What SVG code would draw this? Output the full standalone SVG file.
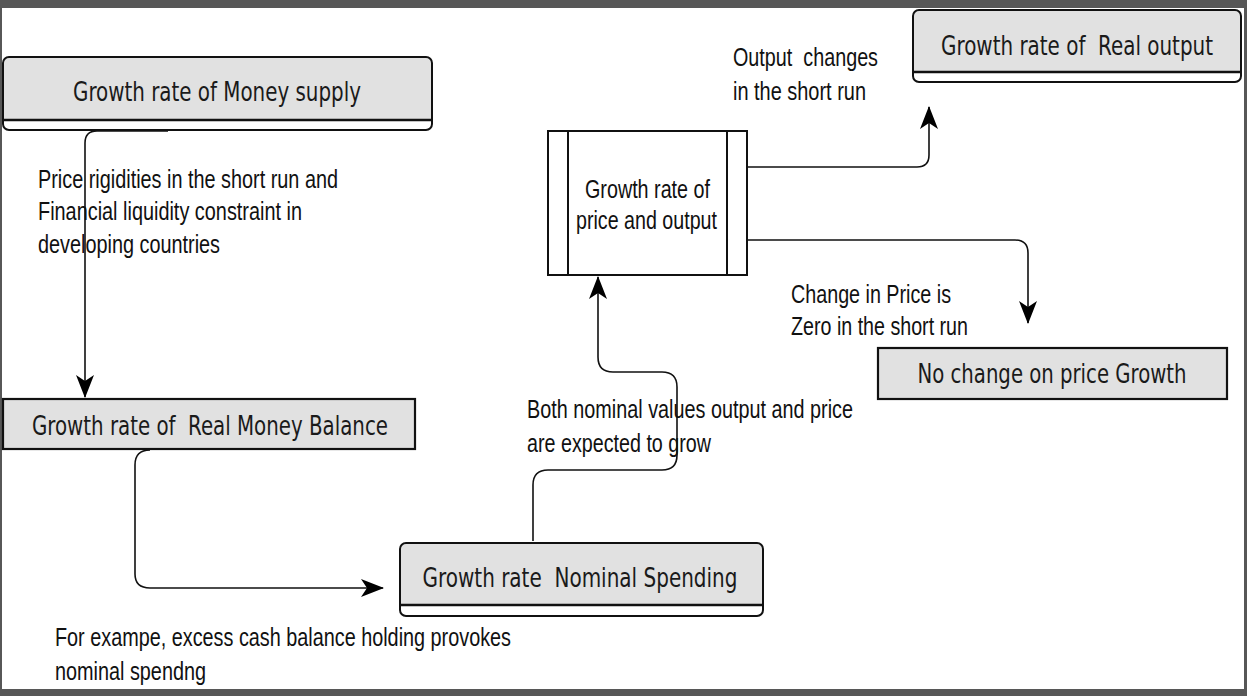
<svg xmlns="http://www.w3.org/2000/svg" width="1247" height="696" viewBox="0 0 1247 696">
  <style>
    .frame { fill: #575757; }
    .hdr { fill: #e1e1e1; stroke: none; }
    .outline { fill: none; stroke: #111; stroke-width: 2; }
    .plain { fill: #e1e1e1; stroke: #111; stroke-width: 2.2; }
    .proc { fill: #fff; stroke: #111; stroke-width: 2; }
    .sep { stroke: #111; stroke-width: 2.6; }
    .bt { font-family: "DejaVu Sans Condensed", "DejaVu Sans", sans-serif; font-size: 27px; fill: #1a1a1a; text-anchor: middle; }
    .lb { font-family: "Liberation Sans", Arial, sans-serif; font-size: 25px; fill: #111; }
    .edge { fill: none; stroke: #111; stroke-width: 1.6; marker-end: url(#arrow); }
  </style>
  <defs>
    <marker id="arrow" viewBox="0 0 23 18" refX="22" refY="9" markerWidth="23" markerHeight="18" markerUnits="userSpaceOnUse" orient="auto">
      <path d="M0,0 L23,9 L0,18 L6,9 Z" fill="#000"/>
    </marker>
  </defs>

  <!-- page background and frame -->
  <rect x="0" y="0" width="1247" height="696" fill="#fff"/>
  <rect class="frame" x="0" y="0" width="1247" height="8"/>
  <rect class="frame" x="0" y="689" width="1247" height="7"/>
  <rect class="frame" x="0" y="0" width="2" height="696"/>
  <rect class="frame" x="1244" y="0" width="3" height="696"/>

  <!-- connectors -->
  <g id="connectors">
    <path class="edge" d="M168,131 H97 Q85,131 85,143 V397"/>
    <path class="edge" d="M150,450 Q135,450 135,465 V574 Q135,588 150,588 H383"/>
    <path class="edge" d="M533,541 V485 Q533,470 548,470 H662 Q677,470 677,455 V387 Q677,372 662,372 H613 Q598,372 598,357 V277"/>
    <path class="edge" d="M747,167 H917 Q929,167 929,155 V107"/>
    <path class="edge" d="M747,240 H1015 Q1028,240 1028,253 V323"/>
  </g>

  <!-- nodes -->
  <g id="money-supply">
    <rect x="3" y="57" width="429" height="73" rx="6" fill="#fff"/>
    <path class="hdr" d="M3,120 V63 Q3,57 9,57 H426 Q432,57 432,63 V120 Z"/>
    <rect class="outline" x="3" y="57" width="429" height="73" rx="6"/>
    <line class="sep" x1="3" y1="120" x2="432" y2="120"/>
    <text class="bt" x="217" y="101" textLength="288" lengthAdjust="spacingAndGlyphs">Growth rate of Money supply</text>
  </g>

  <g id="real-money-balance">
    <rect class="plain" x="3" y="399" width="412" height="50"/>
    <text class="bt" x="210" y="435" textLength="356" lengthAdjust="spacingAndGlyphs" xml:space="preserve">Growth rate of  Real Money Balance</text>
  </g>

  <g id="nominal-spending">
    <rect x="400" y="543" width="363" height="73" rx="6" fill="#fff"/>
    <path class="hdr" d="M400,605 V549 Q400,543 406,543 H757 Q763,543 763,549 V605 Z"/>
    <rect class="outline" x="400" y="543" width="363" height="73" rx="6"/>
    <line class="sep" x1="400" y1="605" x2="763" y2="605"/>
    <text class="bt" x="580" y="587" textLength="315" lengthAdjust="spacingAndGlyphs" xml:space="preserve">Growth rate  Nominal Spending</text>
  </g>

  <g id="price-output">
    <rect class="proc" x="548" y="131" width="199" height="144"/>
    <line class="outline" x1="568" y1="131" x2="568" y2="275"/>
    <line class="outline" x1="727" y1="131" x2="727" y2="275"/>
    <text class="lb" x="585" y="198" textLength="125" lengthAdjust="spacingAndGlyphs">Growth rate of</text>
    <text class="lb" x="576" y="229" textLength="141" lengthAdjust="spacingAndGlyphs">price and output</text>
  </g>

  <g id="real-output">
    <rect x="913" y="10" width="328" height="72" rx="6" fill="#fff"/>
    <path class="hdr" d="M913,72 V16 Q913,10 919,10 H1235 Q1241,10 1241,16 V72 Z"/>
    <rect class="outline" x="913" y="10" width="328" height="72" rx="6"/>
    <line class="sep" x1="913" y1="72" x2="1241" y2="72"/>
    <text class="bt" x="1077" y="55" font-size="26" textLength="272" lengthAdjust="spacingAndGlyphs">Growth rate of&#160; Real output</text>
  </g>

  <g id="no-price-change">
    <rect class="plain" x="878" y="348" width="349" height="51"/>
    <text class="bt" x="1052" y="383" textLength="269" lengthAdjust="spacingAndGlyphs">No change on price Growth</text>
  </g>

  <!-- edge labels -->
  <g id="labels">
    <text class="lb" x="733" y="66" textLength="145" lengthAdjust="spacingAndGlyphs" xml:space="preserve">Output  changes</text>
    <text class="lb" x="733" y="100" textLength="133" lengthAdjust="spacingAndGlyphs">in the short run</text>
    <text class="lb" x="38" y="188" textLength="300" lengthAdjust="spacingAndGlyphs">Price rigidities in the short run and</text>
    <text class="lb" x="38" y="220" textLength="264" lengthAdjust="spacingAndGlyphs">Financial liquidity constraint in</text>
    <text class="lb" x="38" y="253" textLength="182" lengthAdjust="spacingAndGlyphs">developing countries</text>
    <text class="lb" x="791" y="303" textLength="160" lengthAdjust="spacingAndGlyphs">Change in Price is</text>
    <text class="lb" x="791" y="335" textLength="177" lengthAdjust="spacingAndGlyphs">Zero in the short run</text>
    <text class="lb" x="527" y="418" textLength="326" lengthAdjust="spacingAndGlyphs">Both nominal values output and price</text>
    <text class="lb" x="527" y="452" textLength="184" lengthAdjust="spacingAndGlyphs">are expected to grow</text>
    <text class="lb" x="55" y="646" textLength="456" lengthAdjust="spacingAndGlyphs">For exampe, excess cash balance holding provokes</text>
    <text class="lb" x="55" y="680" textLength="151" lengthAdjust="spacingAndGlyphs">nominal spendng</text>
  </g>
</svg>
